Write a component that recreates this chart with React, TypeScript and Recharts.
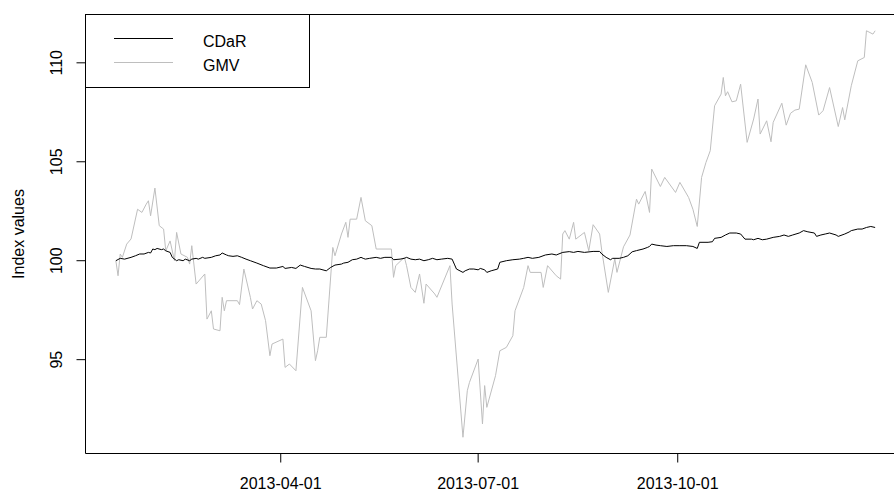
import React from "react";
import { LineChart, Line, XAxis, YAxis, ReferenceArea } from "recharts";

const gmvDay = [15,16,17,18,20,22,25,27,29,30,31,33,35,37,38,40,42,43,45,48,49,50,52,56,57,59,60,63,64,65,66,71,72,74,77,78,80,82,84,86,87,92,93,95,98,101,105,107,108,109,112,115,116,119,121,122,123,126,128,130,133,135,142,143,144,148,149,151,153,155,157,158,162,163,169,170,175,177,178,182,184,185,186,190,192,195,198,199,203,205,206,211,212,214,218,220,221,222,224,226,227,231,233,235,238,239,242,245,246,249,252,255,256,259,261,262,266,268,273,275,279,281,283,285,287,289,291,294,295,296,297,299,301,303,306,309,311,312,315,317,318,322,324,326,328,330,333,336,339,341,344,348,350,351,354,357,360,361,364,365];
const gmvValue = [100.0,99.24,100.34,100.17,100.84,101.1,102.6,102.44,102.86,103.03,102.27,103.67,101.77,101.6,100.5,101.0,100.0,101.43,100.34,100.17,99.83,100.76,98.82,99.33,97.05,97.47,96.55,96.46,98.15,97.47,97.98,97.98,97.78,99.58,98.15,97.56,97.98,97.81,96.97,95.2,95.79,96.04,94.61,94.78,94.44,98.65,97.47,94.95,95.45,96.13,96.13,100.67,100.25,101.35,101.94,101.18,102.1,102.1,103.2,102.02,101.77,100.59,100.59,99.16,99.75,100.17,99.75,98.65,98.4,99.33,97.85,98.82,98.32,98.15,99.75,97.81,91.08,93.43,93.85,95.03,91.75,93.69,92.59,94.19,95.45,95.62,96.21,97.47,98.65,99.75,99.41,99.41,98.65,99.75,99.24,99.07,101.35,101.52,101.09,101.94,101.09,101.43,100.5,101.82,101.35,100.5,98.4,100.1,99.41,100.7,101.3,103.11,102.86,103.5,102.44,104.63,103.75,104.21,103.45,103.96,103.2,102.6,101.73,104.21,104.96,105.56,107.83,108.42,109.26,108.33,108.54,108.03,108.08,108.92,105.98,107.16,108.17,106.4,107.07,106.01,106.99,107.96,106.85,107.45,107.61,107.66,109.9,109.01,107.36,107.58,108.75,106.78,107.74,107.12,108.84,110.1,110.27,111.62,111.45,111.62];

// Day of year 2013 for each CDaR observation
const cdarDay = [15,17,19,22,24,26,28,30,31,32,33,34,36,37,38,40,41,43,44,46,47,49,50,52,53,55,56,59,61,63,64,66,67,69,71,73,75,77,80,83,86,89,92,93,96,98,100,102,105,107,109,112,114,116,119,120,122,124,126,128,129,130,132,135,137,139,142,143,146,148,149,151,153,155,157,159,161,163,165,168,170,171,172,175,176,178,180,182,183,185,186,188,191,192,195,198,201,203,205,207,210,213,216,218,221,224,226,228,231,235,238,239,241,243,244,247,249,251,253,255,258,260,261,262,264,266,269,272,275,278,281,283,284,288,290,291,294,296,298,301,303,305,308,309,311,313,315,318,321,323,325,327,330,332,334,337,338,340,342,344,347,348,351,353,354,357,359,361,363,365];
const cdarValue = [100.0,100.12,100.08,100.17,100.25,100.34,100.34,100.42,100.39,100.59,100.56,100.62,100.56,100.59,100.5,100.42,100.17,100.0,100.05,100.0,100.08,100.0,100.08,100.12,100.08,100.17,100.12,100.17,100.25,100.29,100.39,100.29,100.25,100.22,100.25,100.17,100.08,100.0,99.88,99.75,99.63,99.63,99.71,99.61,99.66,99.61,99.78,99.71,99.61,99.58,99.58,99.49,99.66,99.78,99.83,99.88,99.92,100.05,100.08,100.17,100.12,100.08,100.12,100.17,100.12,100.17,100.17,100.05,100.08,100.12,100.17,100.08,100.05,100.08,100.0,100.05,100.12,100.05,100.08,100.12,100.08,99.83,99.58,99.41,99.49,99.58,99.58,99.54,99.61,99.54,99.41,99.49,99.58,99.92,100.0,100.05,100.08,100.12,100.17,100.12,100.17,100.29,100.34,100.29,100.42,100.46,100.42,100.47,100.42,100.47,100.47,100.34,100.17,100.05,100.12,100.12,100.17,100.25,100.45,100.51,100.59,100.67,100.72,100.84,100.79,100.76,100.72,100.76,100.76,100.76,100.72,100.62,100.93,100.93,100.96,101.13,101.18,101.3,101.4,101.4,101.35,101.09,101.09,101.06,101.13,101.06,101.09,101.18,101.23,101.3,101.23,101.3,101.4,101.52,101.46,101.4,101.23,101.3,101.35,101.4,101.3,101.23,101.35,101.45,101.52,101.6,101.6,101.68,101.73,101.68];

const xTickLabels = ["2013-04-01", "2013-07-01", "2013-10-01"];
const yTicks = [95, 100, 105, 110];
const seriesNames = ["CDaR", "GMV"];
const seriesColors = ["#000000", "#BEBEBE"];

const FONT = "'Liberation Sans', Arial, Helvetica, sans-serif";

const dayOfYear = (s: string) => {
  const [y, m, d] = s.split("-").map(Number);
  return (Date.UTC(y, m - 1, d) - Date.UTC(2013, 0, 1)) / 86400000 + 1;
};
const xTicks = xTickLabels.map(dayOfYear);
const labelByDay: Record<number, string> = {};
xTickLabels.forEach((l, i) => (labelByDay[xTicks[i]] = l));

const gmvData = gmvDay.map((d, i) => ({ day: d, v: gmvValue[i] }));
const cdarData = cdarDay.map((d, i) => ({ day: d, v: cdarValue[i] }));

// R-style 4% range extension
const allDays = [...gmvDay, ...cdarDay];
const allVals = [...gmvValue, ...cdarValue];
const xMin = Math.min(...allDays), xMax = Math.max(...allDays);
const yMin = Math.min(...allVals), yMax = Math.max(...allVals);
const xLo = xMin - 0.04 * (xMax - xMin), xHi = xMax + 0.04 * (xMax - xMin);
const yLo = yMin - 0.04 * (yMax - yMin), yHi = yMax + 0.04 * (yMax - yMin);

const XTick = (props: any) => {
  const { x, payload } = props;
  return (
    <text x={x} y={489} textAnchor="middle" fontSize={16} fontFamily={FONT} fill="#000">
      {labelByDay[payload.value]}
    </text>
  );
};

const YTick = (props: any) => {
  const { y, payload } = props;
  const tx = 62;
  return (
    <text x={tx} y={y} transform={`rotate(-90, ${tx}, ${y})`} textAnchor="middle" fontSize={16} fontFamily={FONT} fill="#000">
      {payload.value}
    </text>
  );
};

export default function App() {
  return (
    <div style={{ position: "absolute", left: 0, top: 0, width: 894, height: 494, overflow: "hidden", background: "#fff" }}>
      <LineChart width={910} height={494} margin={{ top: 14.5, right: 4.5, bottom: 0, left: 40.5 }}>
        <XAxis
          type="number"
          dataKey="day"
          domain={[xLo, xHi]}
          ticks={xTicks}
          allowDataOverflow
          axisLine={false}
          tickLine={{ stroke: "#000" }}
          tickSize={9}
          height={40.5}
          tick={<XTick />}
        />
        <YAxis
          type="number"
          domain={[yLo, yHi]}
          ticks={yTicks}
          allowDataOverflow
          axisLine={false}
          tickLine={{ stroke: "#000" }}
          tickSize={9}
          width={45}
          tick={<YTick />}
        />
        <ReferenceArea x1={xLo} x2={xHi} y1={yLo} y2={yHi} fill="none" fillOpacity={0} stroke="#000" strokeWidth={1} />
        <Line data={gmvData} dataKey="v" name={seriesNames[1]} stroke={seriesColors[1]} strokeWidth={1} dot={false} type="linear" isAnimationActive={false} />
        <Line data={cdarData} dataKey="v" name={seriesNames[0]} stroke={seriesColors[0]} strokeWidth={1} dot={false} type="linear" isAnimationActive={false} />
      </LineChart>
      <svg width={894} height={494} style={{ position: "absolute", left: 0, top: 0, pointerEvents: "none" }}>
        <text x={24} y={234} transform="rotate(-90, 24, 234)" textAnchor="middle" fontSize={16} fontFamily={FONT} fill="#000">
          Index values
        </text>
        <rect x={85.5} y={14.5} width={224} height={73} fill="#fff" stroke="#000" strokeWidth={1} />
        {seriesNames.map((n, i) => (
          <g key={n}>
            <line x1={114} x2={173} y1={38.5 + i * 24} y2={38.5 + i * 24} stroke={seriesColors[i]} strokeWidth={1} />
            <text x={203} y={46.5 + i * 24} fontSize={16} fontFamily={FONT} fill="#000">{n}</text>
          </g>
        ))}
      </svg>
    </div>
  );
}
